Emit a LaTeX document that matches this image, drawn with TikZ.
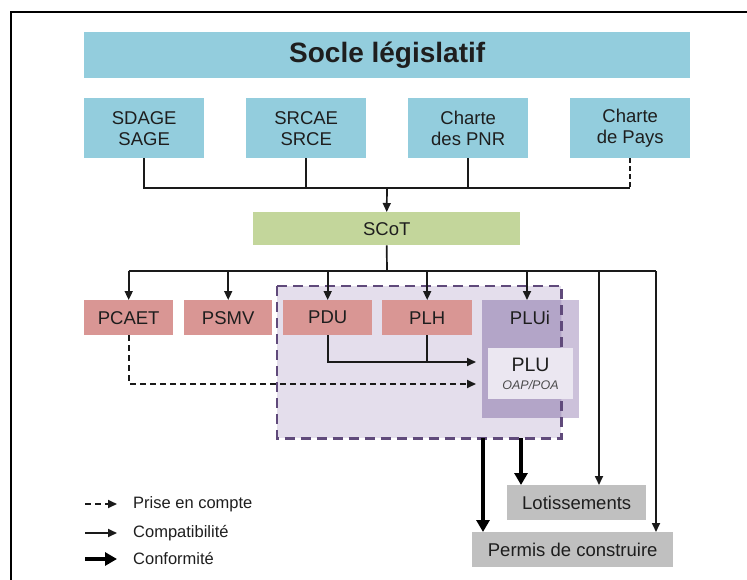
\documentclass[tikz,border=0pt]{standalone}
\usepackage{fontspec}
\setmainfont{Liberation Sans}
\usetikzlibrary{arrows.meta}
\definecolor{cblue}{HTML}{93CDDD}
\definecolor{cgreen}{HTML}{C3D69B}
\definecolor{cred}{HTML}{D99694}
\definecolor{cgray}{HTML}{C0C0C0}
\definecolor{creg}{HTML}{E4DEEC}
\definecolor{cpluiout}{HTML}{CCC1DA}
\definecolor{cpluiin}{HTML}{B3A5C8}
\definecolor{cplu}{HTML}{EBE7F1}
\definecolor{cborder}{HTML}{604A7B}
\definecolor{ctxt}{HTML}{1E1E1E}
\definecolor{cline}{HTML}{1A1A1A}
\begin{document}
\begin{tikzpicture}[x=1pt,y=-1pt,
  box/.style={inner sep=0pt, anchor=north west, text=ctxt, align=center,
    font=\fontsize{18.5}{21}\selectfont},
  thinarr/.style={draw=cline, line width=1.7pt, -{Triangle[length=9pt,width=8pt]}},
  thinline/.style={draw=cline, line width=1.7pt},
  dasharr/.style={draw=cline, line width=1.7pt, dash pattern=on 6pt off 4pt, -{Triangle[length=9pt,width=8pt]}},
  thickarr/.style={draw=black, line width=4.5pt, -{Triangle[length=12pt,width=13pt]}},
  legtxt/.style={anchor=west, inner sep=0pt, text=ctxt, font=\fontsize{16.5}{18}\selectfont}]
\useasboundingbox (0,0) rectangle (747,580);
% frame
\draw[line width=2pt, black] (11,580) -- (11,12) -- (747,12);

% top
\node[box, fill=cblue, minimum width=606pt, minimum height=46pt,
  font=\bfseries\fontsize{28}{30}\selectfont] (socle) at (84,32) {Socle législatif};
\node[box, fill=cblue, minimum width=120pt, minimum height=60pt] (sdage) at (84,98) {SDAGE\\SAGE};
\node[box, fill=cblue, minimum width=120pt, minimum height=60pt] (srcae) at (246,98) {SRCAE\\SRCE};
\node[box, fill=cblue, minimum width=120pt, minimum height=60pt] (pnr) at (408,98) {Charte\\des PNR};
\node[box, fill=cblue, minimum width=120pt, minimum height=60pt] (pays) at (570,98) {Charte\\de Pays};
\node[box, fill=cgreen, minimum width=267pt, minimum height=33pt] (scot) at (253,212) {SCoT};

% group region
\node[box, fill=creg, minimum width=284pt, minimum height=152pt] (grp) at (277,286) {};
\node[box, fill=cpluiout, minimum width=97pt, minimum height=118pt] (plui) at (482,300) {};
\begin{scope}
  \clip (grp.north west) rectangle (grp.south east);
  \fill[cpluiin] (plui.north west) rectangle (plui.south east);
\end{scope}
\draw[cborder, line width=2.3pt, dash pattern=on 10pt off 6pt] (grp.north west) rectangle (grp.south east);
\node[text=ctxt, inner sep=0pt, font=\fontsize{18.5}{21}\selectfont] (pluitxt) at (530,318) {PLUi};
\node[box, fill=cplu, minimum width=85pt, minimum height=51pt] (plu) at (488,348) {};
\node[text=ctxt, inner sep=0pt, font=\fontsize{19.5}{21}\selectfont] (plutxt) at (530.5,365) {PLU};
\node[text=ctxt!80, inner sep=0pt, font=\itshape\fontsize{12.5}{14}\selectfont] (oap) at (530.5,385) {OAP/POA};

% second level
\node[box, fill=cred, minimum width=89pt, minimum height=35pt] (pcaet) at (84,300) {PCAET};
\node[box, fill=cred, minimum width=88pt, minimum height=35pt] (psmv) at (184,300) {PSMV};
\node[box, fill=cred, minimum width=89pt, minimum height=35pt] (pdu) at (283,300) {PDU};
\node[box, fill=cred, minimum width=90pt, minimum height=35pt] (plh) at (382,300) {PLH};

% bottom
\node[box, fill=cgray, minimum width=139pt, minimum height=35pt] (lot) at (507,485) {Lotissements};
\node[box, fill=cgray, minimum width=201pt, minimum height=35pt] (permis) at (472,532) {Permis de construire};

% coordinates
\coordinate (bus1) at (387,188);
\coordinate (bus2) at (387,271);
\coordinate (lotx) at (599,0);
\coordinate (perx) at (656,0);
\coordinate (pluix) at (527,0);
\coordinate (tip1) at (476,362);
\coordinate (tip2) at (476,384);
\coordinate (thk1) at (483,0);
\coordinate (thk2) at (521,0);

% connectors top
\draw[thinline] (sdage.south) -- (sdage.south |- bus1) -- (pays.south |- bus1);
\draw[thinline] (srcae.south) -- (srcae.south |- bus1);
\draw[thinline] (pnr.south) -- (pnr.south |- bus1);
\draw[thinline, dash pattern=on 5pt off 3pt] (pays.south) -- (pays.south |- bus1);
\draw[thinarr] (bus1) -- (scot.north);

% scot bus
\draw[thinline] (scot.south) -- (bus2);
\draw[thinline] (pcaet.north |- bus2) -- (bus2 -| perx);
\draw[thinarr] (pcaet.north |- bus2) -- (pcaet.north);
\draw[thinarr] (psmv.north |- bus2) -- (psmv.north);
\draw[thinarr] (pdu.north |- bus2) -- (pdu.north);
\draw[thinarr] (plh.north |- bus2) -- (plh.north);
\draw[thinarr] (bus2 -| pluix) -- (pluix |- plui.north);
\draw[thinarr] (bus2 -| lotx) -- (lotx |- lot.north);
\draw[thinarr] (bus2 -| perx) -- (perx |- permis.north);

% into PLU
\draw[thinarr] (pdu.south) |- (tip1);
\draw[thinline] (plh.south) -- (plh.south |- tip1);
\draw[dasharr] (pcaet.south) |- (tip2);

% conformity
\draw[thickarr] (thk1 |- grp.south) -- (thk1 |- permis.north);
\draw[thickarr] (thk2 |- grp.south) -- (thk2 |- lot.north);

% legend
\coordinate (l1a) at (85,504); \coordinate (l1b) at (117,504);
\coordinate (l2a) at (85,533); \coordinate (l2b) at (117,533);
\coordinate (l3a) at (85,559); \coordinate (l3b) at (117,559);
\draw[dasharr] (l1a) -- (l1b);
\draw[thinarr] (l2a) -- (l2b);
\draw[thickarr] (l3a) -- (l3b);
\node[legtxt] (lg1) at (133,504) {Prise en compte};
\node[legtxt] (lg2) at (133,533) {Compatibilité};
\node[legtxt] (lg3) at (133,559) {Conformité};
\end{tikzpicture}
\end{document}
